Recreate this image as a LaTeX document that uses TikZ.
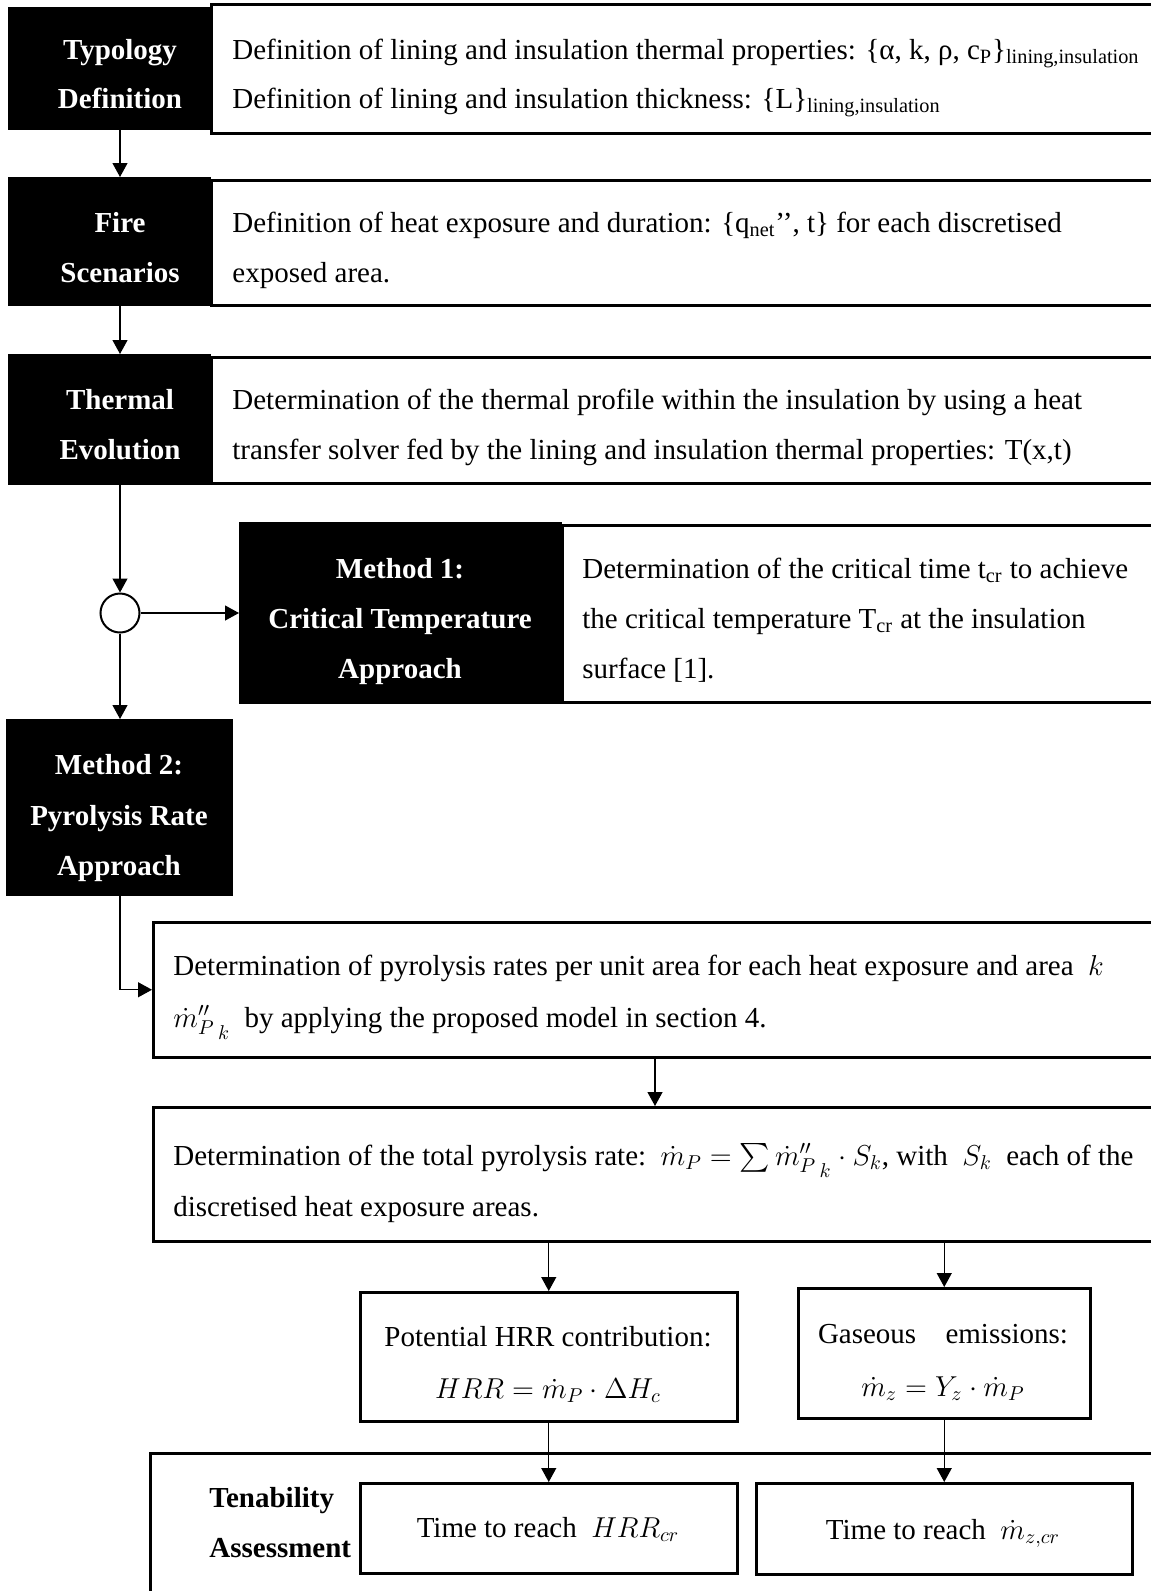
\documentclass[tikz,border=0pt]{standalone}
\usepackage{fontspec}
\setmainfont{Liberation Serif}
\usepackage{amsmath}
\usetikzlibrary{arrows.meta}
\newcommand{\mpk}{\dot m''_{P}{}_{\,\rule{0pt}{11pt}k}}
\begin{document}
\begin{tikzpicture}[x=0.5pt,y=-0.5pt,
  whitebox/.style={draw=black, fill=white, line width=1.25pt, inner sep=0pt, anchor=north west},
  blackbox/.style={draw=black, fill=black, line width=0.5pt, inner sep=0pt, anchor=north west},
  txt/.style={inner sep=0pt, anchor=base west, font=\fontsize{14.5}{17}\selectfont},
  ctxt/.style={inner sep=0pt, anchor=base, font=\fontsize{14.5}{17}\selectfont},
  lbl/.style={inner sep=0pt, anchor=base, text=white, font=\fontsize{14.5}{17}\selectfont\bfseries},
  blbl/.style={inner sep=0pt, anchor=base west, font=\fontsize{14.5}{17}\selectfont\bfseries},
  arr/.style={line width=0.6pt, -{Triangle[length=7pt,width=7.5pt]}}]
\useasboundingbox (0,0) rectangle (1151,1591);
\clip (0,0) rectangle (1151,1591);
\fill[white] (0,0) rectangle (1151,1591);

% helper coordinates
\coordinate (ax) at (120,0);
\coordinate (xmid) at (655,0);

% --- Typology Definition
\node[whitebox, minimum width=475pt, minimum height=64.5pt] (t1w) at (210,3) {};
\node[blackbox, minimum width=101pt, minimum height=61pt] (t1b) at (8,7) {};
\node[lbl] (t1a) at (120,59) {Typology};
\node[lbl] (t1c) at (120,108) {Definition};
\node[txt] (t1l1) at (232,59) {Definition of lining and insulation thermal properties: \{α, k, ρ, c\textsubscript{P}\}\textsubscript{lining,insulation}};
\node[txt] (t1l2) at (232,108) {Definition of lining and insulation thickness: \{L\}\textsubscript{lining,insulation}};

% --- Fire Scenarios
\node[whitebox, minimum width=475pt, minimum height=62.5pt] (t2w) at (210,179) {};
\node[blackbox, minimum width=101pt, minimum height=64pt] (t2b) at (8,177) {};
\node[lbl] (t2a) at (120,232) {Fire};
\node[lbl] (t2c) at (120,282) {Scenarios};
\node[txt] (t2l1) at (232,232) {Definition of heat exposure and duration: \{q\textsubscript{net}’’, t\} for each discretised};
\node[txt] (t2l2) at (232,282) {exposed area.};

% --- Thermal Evolution
\node[whitebox, minimum width=475pt, minimum height=63pt] (t3w) at (210,356) {};
\node[blackbox, minimum width=101pt, minimum height=65pt] (t3b) at (8,354) {};
\node[lbl] (t3a) at (120,409) {Thermal};
\node[lbl] (t3c) at (120,459) {Evolution};
\node[txt] (t3l1) at (232,409) {Determination of the thermal profile within the insulation by using a heat};
\node[txt] (t3l2) at (232,459) {transfer solver fed by the lining and insulation thermal properties: T(x,t)};

% --- branching circle
\node[circle, draw=black, fill=white, line width=1pt, minimum size=19.5pt, inner sep=0pt] (c) at (120,613) {};

% --- Method 1
\node[whitebox, minimum width=300pt, minimum height=88.5pt] (m1w) at (561,524) {};
\node[blackbox, minimum width=161pt, minimum height=90.5pt] (m1b) at (239,522) {};
\node[lbl] (m1a) at (400,578) {Method 1:};
\node[lbl] (m1c) at (400,628) {Critical Temperature};
\node[lbl] (m1d) at (400,678) {Approach};
\node[txt] (m1l1) at (582,578) {Determination of the critical time t\textsubscript{cr} to achieve};
\node[txt] (m1l2) at (582,628) {the critical temperature T\textsubscript{cr} at the insulation};
\node[txt] (m1l3) at (582,678) {surface [1].};

% --- Method 2
\node[blackbox, minimum width=113pt, minimum height=88pt] (m2b) at (6,719) {};
\node[lbl] (m2a) at (119,774) {Method 2:};
\node[lbl] (m2c) at (119,825) {Pyrolysis Rate};
\node[lbl] (m2d) at (119,875) {Approach};

% --- pyrolysis rates per unit area
\node[whitebox, minimum width=504pt, minimum height=67.5pt] (p1) at (152,921) {};
\node[txt] (p1l1) at (173,975) {Determination of pyrolysis rates per unit area for each heat exposure and area\ \ $k$};
\node[txt] (p1l2) at (173,1027) {$\mpk$\ \ by applying the proposed model in section 4.};

% --- total pyrolysis rate
\node[whitebox, minimum width=504pt, minimum height=67pt] (p2) at (152,1106) {};
\node[txt] (p2l1) at (173,1165) {Determination of the total pyrolysis rate:\ \ $\dot m_P=\sum\mpk\cdot S_k$, with\ \ $S_k$\ \ each of the};
\node[txt] (p2l2) at (173,1216) {discretised heat exposure areas.};

% --- HRR and gaseous emissions
\node[whitebox, minimum width=188.5pt, minimum height=64.5pt] (h1) at (359,1291) {};
\node[ctxt] (h1l1) at (548,1346) {Potential HRR contribution:};
\node[ctxt] (h1l2) at (548,1398) {$HRR=\dot m_P\cdot\Delta H_c$};
\node[whitebox, minimum width=146pt, minimum height=65pt] (g1) at (797,1287) {};
\node[ctxt] (g1l1) at (943,1343) {\makebox[125pt][s]{Gaseous emissions:}};
\node[ctxt] (g1l2) at (943,1396) {$\dot m_z=Y_z\cdot\dot m_P$};

% --- Tenability assessment
\node[whitebox, minimum width=505.5pt, minimum height=74pt] (o1) at (149,1452) {};
\node[blbl] (o1a) at (209,1507) {Tenability};
\node[blbl] (o1c) at (209,1557) {Assessment};
\node[whitebox, minimum width=188.5pt, minimum height=45pt] (r1) at (359,1482) {};
\node[ctxt] (r1l) at (548,1537) {Time to reach\ \ $HRR_{cr}$};
\node[whitebox, minimum width=188pt, minimum height=45.5pt] (r2) at (755,1482) {};
\node[ctxt] (r2l) at (943,1539) {Time to reach\ \ $\dot m_{z,cr}$};

% --- connectors
\draw[arr] (t1b.south -| ax) -- (t2b.north -| ax);
\draw[arr] (t2b.south -| ax) -- (t3b.north -| ax);
\draw[arr] (t3b.south -| c) -- (c.north);
\draw[arr] (c.east) -- (m1b.west |- c);
\draw[arr] (c.south) -- (m2b.north -| c);
\draw[arr] (m2b.south -| c) |- (p1.west);
\draw[arr] (p1.south -| xmid) -- (p2.north -| xmid);
\draw[arr] (p2.south -| h1.north) -- (h1.north);
\draw[arr] (p2.south -| g1.north) -- (g1.north);
\draw[arr] (h1.south) -- (r1.north);
\draw[arr] (g1.south) -- (r2.north -| g1.south);
\end{tikzpicture}
\end{document}
